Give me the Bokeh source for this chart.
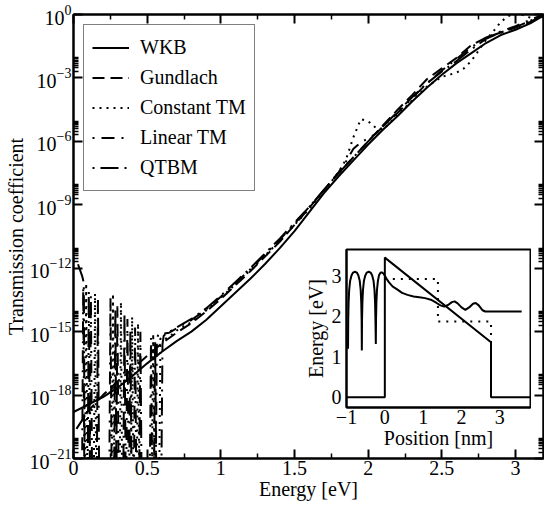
import numpy as np
from bokeh.plotting import figure
from bokeh.models import (FixedTicker, LinearAxis, LogAxis, Legend, LegendItem,
                          CustomJSTickFormatter, Range1d)
from bokeh.layouts import column
from bokeh.embed import file_html
from bokeh.resources import INLINE

FONT = "Liberation Serif"

# ---------------- main plot data (energy in eV, log10 of transmission) -------------
wkb_E = [0.00, 0.10, 0.20, 0.30, 0.40, 0.50, 0.60, 0.70, 0.80, 0.90, 1.00, 1.10, 1.20,
         1.30, 1.40, 1.50, 1.60, 1.70, 1.80, 1.90, 2.00, 2.10, 2.20, 2.30, 2.40, 2.50,
         2.60, 2.70, 2.80, 2.90, 3.00, 3.10, 3.19]
wkb_log10T = [-18.80, -18.45, -18.10, -17.65, -17.10, -16.50, -15.95, -15.45, -15.00,
              -14.45, -13.80, -13.15, -12.50, -11.80, -11.05, -10.25, -9.35, -8.45, -7.65,
              -6.90, -6.15, -5.45, -4.80, -4.10, -3.45, -2.85, -2.30, -1.83, -1.35, -0.97,
              -0.72, -0.42, -0.05]

gund_E = [0.02, 0.10, 0.20, 0.30, 0.40, 0.50, 0.60, 0.70, 0.80, 0.90, 1.00, 1.10, 1.20,
          1.30, 1.40, 1.50, 1.60, 1.70, 1.80, 1.90, 2.00, 2.10, 2.20, 2.30, 2.40, 2.50,
          2.60, 2.70, 2.80, 2.90, 3.00, 3.10, 3.19]
gund_log10T = [-19.60, -18.75, -18.00, -17.35, -16.75, -16.15, -15.55, -15.05, -14.60,
               -14.05, -13.45, -12.80, -12.15, -11.45, -10.75, -9.95, -9.15, -8.30, -7.50,
               -6.75, -6.00, -5.25, -4.50, -3.80, -3.05, -2.55, -2.05, -1.45, -1.10, -0.85,
               -0.62, -0.35, -0.02]

ctm_E = [0.000, 0.078, 0.086, 0.094, 0.138, 0.146, 0.154, 0.260, 0.268, 0.276, 0.314,
         0.322, 0.330, 0.390, 0.398, 0.406, 0.430, 0.438, 0.446, 0.533, 0.541, 0.549,
         0.582, 0.590, 0.600, 0.620, 0.650, 0.700, 0.800, 0.900, 1.000, 1.100, 1.200,
         1.300, 1.400, 1.500, 1.600, 1.700, 1.800, 1.850, 1.900, 1.950, 2.000, 2.050,
         2.100, 2.200, 2.300, 2.400, 2.500, 2.600, 2.650, 2.700, 2.750, 2.800, 2.850,
         2.900, 2.950, 3.000, 3.050, 3.100, 3.150, 3.190]
ctm_log10T = [-22, -22, -12.7, -22, -22, -13.2, -22, -22, -13.2, -22, -22, -13.6, -22,
              -22, -14.3, -22, -22, -14.6, -22, -22, -15.1, -22, -22, -15.3, -15.35,
              -15.35, -15.25, -14.95, -14.55, -14.00, -13.40, -12.75, -12.10, -11.40,
              -10.70, -9.95, -9.20, -8.35, -7.45, -6.85, -5.80, -4.95, -5.05, -5.35,
              -5.45, -4.75, -4.05, -3.40, -2.95, -2.75, -2.55, -2.20, -1.70, -1.20,
              -0.80, -0.35, -0.08, 0.05, -0.02, -0.15, -0.25, -0.10]

lin_E = [0.000, 0.058, 0.066, 0.074, 0.110, 0.118, 0.126, 0.243, 0.251, 0.259, 0.290,
         0.298, 0.306, 0.358, 0.366, 0.374, 0.410, 0.418, 0.426, 0.518, 0.526, 0.534,
         0.558, 0.566, 0.576, 0.600, 0.650, 0.700, 0.800, 0.900, 1.000, 1.100, 1.200,
         1.300, 1.400, 1.500, 1.600, 1.700, 1.800, 1.850, 1.900, 1.950, 2.000, 2.050,
         2.100, 2.200, 2.300, 2.400, 2.500, 2.600, 2.700, 2.800, 2.900, 3.000, 3.100,
         3.190]
lin_log10T = [-22, -22, -12.9, -22, -22, -13.3, -22, -22, -13.4, -22, -22, -13.8, -22,
              -22, -14.4, -22, -22, -14.8, -22, -22, -15.3, -22, -22, -15.4, -15.1,
              -15.1, -15.05, -14.85, -14.45, -13.95, -13.35, -12.70, -12.05, -11.35,
              -10.65, -9.90, -9.10, -8.30, -7.45, -6.95, -6.35, -6.05, -5.85, -5.65,
              -5.30, -4.65, -3.95, -3.25, -2.65, -2.10, -1.55, -1.10, -0.80, -0.55,
              -0.25, 0.0]

qtbm_E = [0.000, 0.030, 0.060, 0.070, 0.076, 0.096, 0.104, 0.112, 0.158, 0.166, 0.174,
          0.276, 0.284, 0.292, 0.338, 0.346, 0.354, 0.378, 0.386, 0.394, 0.446, 0.454,
          0.462, 0.546, 0.554, 0.562, 0.596, 0.604, 0.612, 0.635, 0.665, 0.700, 0.800,
          0.900, 1.000, 1.100, 1.200, 1.300, 1.400, 1.500, 1.600, 1.700, 1.800, 1.900,
          2.000, 2.100, 2.200, 2.300, 2.400, 2.500, 2.600, 2.700, 2.800, 2.900, 3.000,
          3.100, 3.190]
qtbm_log10T = [-11.5, -11.8, -12.4, -12.7, -22, -22, -13.1, -22, -22, -13.5, -22, -22,
               -13.9, -22, -22, -14.1, -22, -22, -14.9, -22, -22, -15.0, -22, -22, -15.5,
               -22, -22, -15.6, -15.2, -15.05, -14.95, -14.80, -14.40, -13.90, -13.30,
               -12.65, -12.00, -11.30, -10.60, -9.85, -9.10, -8.30, -7.50, -6.75, -6.00,
               -5.30, -4.60, -3.90, -3.25, -2.70, -2.20, -1.65, -1.15, -0.85, -0.60,
               -0.30, 0.0]

x_ticks = [0, 0.5, 1, 1.5, 2, 2.5, 3]
x_tick_labels = ["0", "0.5", "1", "1.5", "2", "2.5", "3"]
x_minor = [0.25, 0.75, 1.25, 1.75, 2.25, 2.75]
y_ticks = [1e-21, 1e-18, 1e-15, 1e-12, 1e-9, 1e-6, 1e-3, 1e0]
y_minor = [m * t for t in y_ticks[:-1] for m in range(2, 10)]

# ---------------- inset data (position in nm, energy in eV) -------------
pot_x = [-1.0, 0.0, 0.0, 2.77, 2.77, 3.8]
pot_y = [0.0, 0.0, 3.45, 1.36, 0.0, 0.0]
step_x = [0.0, 1.385, 1.385, 2.77, 2.77]
step_y = [2.92, 2.92, 1.87, 1.87, 0.0]
wave_x = [-0.96, -0.955, -0.945, -0.93, -0.905, -0.87, -0.83, -0.78, -0.73, -0.69, -0.655,
          -0.63, -0.615, -0.605, -0.60, -0.595, -0.585, -0.57, -0.545, -0.51, -0.47, -0.42,
          -0.37, -0.33, -0.295, -0.27, -0.255, -0.245, -0.235, -0.23, -0.22, -0.205, -0.18,
          -0.15, -0.11, -0.07, -0.03, 0.0, 0.05, 0.11, 0.2, 0.33, 0.45, 0.59, 0.75, 0.9,
          1.05, 1.2, 1.35, 1.45, 1.55, 1.65, 1.75, 1.82, 1.9, 2.0, 2.1, 2.2, 2.3, 2.37,
          2.45, 2.55, 2.62, 2.8, 3.2, 3.57]
wave_y = [1.20, 1.90, 2.35, 2.65, 2.88, 3.01, 3.08, 3.10, 3.08, 3.01, 2.88, 2.65, 2.35,
          1.90, 1.16, 1.90, 2.35, 2.65, 2.88, 3.01, 3.08, 3.10, 3.08, 3.01, 2.88, 2.65,
          2.35, 1.90, 1.32, 1.90, 2.35, 2.65, 2.88, 3.02, 3.08, 3.08, 3.05, 3.0, 2.92,
          2.84, 2.74, 2.66, 2.58, 2.53, 2.49, 2.47, 2.45, 2.41, 2.33, 2.27, 2.24, 2.28,
          2.35, 2.37, 2.32, 2.22, 2.16, 2.22, 2.31, 2.33, 2.27, 2.15, 2.12, 2.12, 2.12,
          2.12]
inset_x_ticks = [-1, 0, 1, 2, 3]
inset_y_ticks = [0, 1, 2, 3]


def style_axis(ax, size="20px"):
    ax.axis_line_width = 2
    ax.major_tick_line_width = 2
    ax.minor_tick_line_width = 1.5
    ax.major_tick_in = 9
    ax.major_tick_out = 0
    ax.minor_tick_in = 5
    ax.minor_tick_out = 0
    ax.major_label_text_font = FONT
    ax.major_label_text_font_size = size
    ax.major_label_text_color = "black"
    ax.axis_label_text_font = FONT
    ax.axis_label_text_font_size = size
    ax.axis_label_text_font_style = "normal"
    ax.axis_label_text_color = "black"


p = figure(width=544, height=508, output_backend="svg", toolbar_location=None,
           x_range=Range1d(0, 3.19), y_range=Range1d(1e-21, 1.0), y_axis_type="log",
           min_border_left=73, min_border_right=1, min_border_top=14, min_border_bottom=50)
p.grid.visible = False
p.outline_line_color = "black"
p.outline_line_width = 2
p.background_fill_color = "white"
p.border_fill_color = "white"

xa = p.xaxis[0]
style_axis(xa)
xa.ticker = FixedTicker(ticks=x_ticks, minor_ticks=x_minor)
xa.major_label_overrides = {t: l for t, l in zip(x_ticks, x_tick_labels)}
xa.axis_label = "Energy [eV]"
xa.major_label_standoff = 2
xa.axis_label_standoff = 0

ya = p.yaxis[0]
style_axis(ya)
ya.ticker = FixedTicker(ticks=y_ticks, minor_ticks=y_minor)
ya.axis_label = "Transmission coefficient"
ya.major_label_standoff = 2
ya.axis_label_standoff = 0

blank = CustomJSTickFormatter(code="return ''")
top = LinearAxis(ticker=FixedTicker(ticks=x_ticks, minor_ticks=x_minor), formatter=blank,
                 major_label_standoff=0)
style_axis(top)
p.add_layout(top, "above")
right = LogAxis(ticker=FixedTicker(ticks=y_ticks, minor_ticks=y_minor), formatter=blank,
                major_label_standoff=0)
style_axis(right)
p.add_layout(right, "right")


def T(vals):
    return [10.0 ** v for v in vals]


r_wkb = p.line(wkb_E, T(wkb_log10T), line_color="black", line_width=2)
r_gund = p.line(gund_E, T(gund_log10T), line_color="black", line_width=2, line_dash="12 6")
r_ctm = p.line(ctm_E, T(ctm_log10T), line_color="black", line_width=2, line_dash="2 5")
r_lin = p.line(lin_E, T(lin_log10T), line_color="black", line_width=2, line_dash="2 7 13 7")
r_qtbm = p.line(qtbm_E, T(qtbm_log10T), line_color="black", line_width=2, line_dash="2 6 18 6")

legend = Legend(items=[LegendItem(label="WKB", renderers=[r_wkb]),
                       LegendItem(label="Gundlach", renderers=[r_gund]),
                       LegendItem(label="Constant TM", renderers=[r_ctm]),
                       LegendItem(label="Linear TM", renderers=[r_lin]),
                       LegendItem(label="QTBM", renderers=[r_qtbm])],
                location="top_left")
legend.margin = 10
legend.padding = 8
legend.spacing = 1
legend.glyph_width = 37
legend.glyph_height = 29
legend.label_height = 29
legend.label_standoff = 11
legend.label_text_font = FONT
legend.label_text_font_size = "20px"
legend.label_text_color = "black"
legend.border_line_color = "black"
legend.border_line_width = 1
legend.background_fill_color = "white"
legend.background_fill_alpha = 1.0
p.add_layout(legend)

# ---------------- inset -------------
ins = figure(width=258, height=209, output_backend="svg", toolbar_location=None,
             x_range=Range1d(-1, 3.8), y_range=Range1d(-0.25, 3.65),
             min_border_left=73, min_border_right=1, min_border_top=2, min_border_bottom=49)
ins.grid.visible = False
ins.outline_line_color = "black"
ins.outline_line_width = 2
ins.background_fill_color = "white"
ins.border_fill_alpha = 0.0
for ax in (ins.xaxis[0], ins.yaxis[0]):
    style_axis(ax)
    ax.major_tick_in = 0
    ax.minor_tick_in = 0
    ax.major_tick_line_color = None
    ax.minor_tick_line_color = None
ins.xaxis[0].ticker = FixedTicker(ticks=inset_x_ticks)
ins.yaxis[0].ticker = FixedTicker(ticks=inset_y_ticks)
ins.xaxis[0].axis_label = "Position [nm]"
ins.yaxis[0].axis_label = "Energy [eV]"
ins.xaxis[0].major_label_standoff = 2
ins.xaxis[0].axis_label_standoff = 0
ins.yaxis[0].major_label_standoff = 5
ins.yaxis[0].axis_label_standoff = 2

ins.line(pot_x, pot_y, line_color="black", line_width=2)
ins.line(step_x, step_y, line_color="black", line_width=2, line_dash="2 6")
ins.line(wave_x, wave_y, line_color="black", line_width=2)

ins.styles = {"position": "absolute", "left": "273px", "top": "247px"}
layout = column(p, ins, styles={"position": "relative"})

open("out.html", "w").write(file_html(layout, INLINE))
